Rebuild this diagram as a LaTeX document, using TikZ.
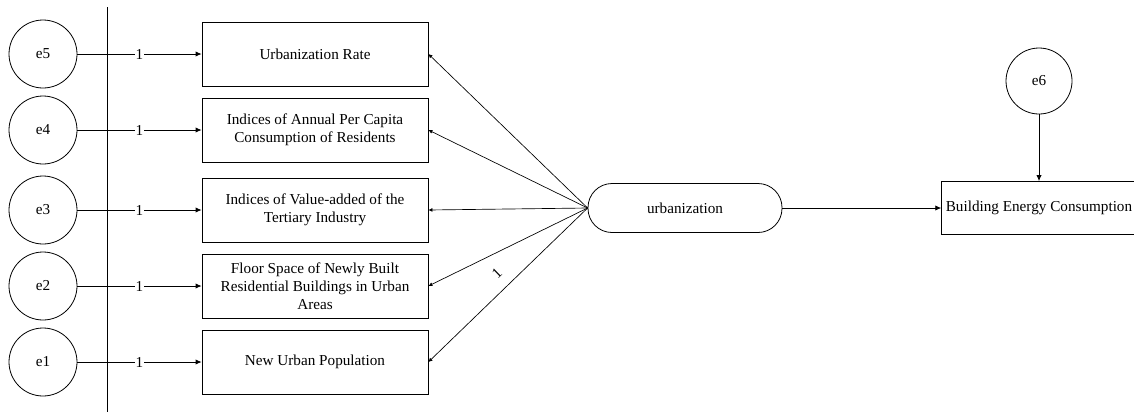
\documentclass[tikz,border=0pt]{standalone}
\usepackage{fontspec}
\setmainfont{Liberation Serif}
\usetikzlibrary{arrows.meta}
\tikzset{>=stealth}
\tikzstyle{error} = [circle, text centered, minimum size = 51pt, inner sep = 0pt, draw = black]
\tikzstyle{observed} = [rectangle, text centered, align = center, minimum width = 169.5pt, minimum height = 48pt, draw = black]
\tikzstyle{latent} = [rectangle, rounded corners = 18pt, text centered, minimum width = 145.5pt, minimum height = 36.75pt, draw = black]
\tikzstyle{outcome} = [rectangle, text centered, inner sep = 2pt, minimum width = 146pt, minimum height = 39.75pt, draw = black]
\tikzstyle{fixed} = [fill = white, inner sep = 0.5pt]
\tikzstyle{bigarrow} = [-{Latex[length = 4.5pt, width = 4pt]}, line width = 0.6pt]
\tikzstyle{smallarrow} = [-{Latex[length = 3pt, width = 3pt]}, line width = 0.5pt]

\begin{document}
\begin{tikzpicture}[x = 0.75pt, y = -0.75pt, font = \fontsize{11.4}{13.7}\selectfont, line width = 0.6pt, node distance = 204pt]
    \useasboundingbox (0,0) rectangle (1134,412);
    \node (e5) [error] at (43,54) {e5};
    \node (e4) [error] at (43,130) {e4};
    \node (e3) [error] at (43,210) {e3};
    \node (e2) [error] at (43,286) {e2};
    \node (e1) [error] at (43,362) {e1};
    \node (rate) [observed, right of = e5] {Urbanization Rate};
    \node (consume) [observed, right of = e4] {Indices of Annual Per Capita\\Consumption of Residents};
    \node (tertiary) [observed, right of = e3] {Indices of Value-added of the\\Tertiary Industry};
    \node (floor) [observed, right of = e2] {Floor Space of Newly Built\\Residential Buildings in Urban\\Areas};
    \node (pop) [observed, right of = e1] {New Urban Population};
    \node (urb) [latent] at (685,208) {urbanization};
    \node (bec) [outcome] at (1039,208) {Building Energy Consumption};
    \node (e6) [error, minimum size = 49.5pt] at (1039,81) {e6};
    \draw (107,7) -- (107,412);
    \draw [bigarrow] (e5) -- node [fixed] {1} (rate);
    \draw [bigarrow] (e4) -- node [fixed] {1} (consume);
    \draw [bigarrow] (e3) -- node [fixed] {1} (tertiary);
    \draw [bigarrow] (e2) -- node [fixed] {1} (floor);
    \draw [bigarrow] (e1) -- node [fixed] {1} (pop);
    \draw [smallarrow] (urb.west) -- (rate.east);
    \draw [smallarrow] (urb.west) -- (consume.east);
    \draw [smallarrow] (urb.west) -- (tertiary.east);
    \draw [smallarrow] (urb.west) -- (floor.east);
    \draw [smallarrow] (urb.west) -- node [pos = 0.57, yshift = 17pt, rotate = 44] {1} (pop.east);
    \draw [bigarrow] (urb) -- (bec);
    \draw [bigarrow] (e6) -- (bec);
\end{tikzpicture}
\end{document}
